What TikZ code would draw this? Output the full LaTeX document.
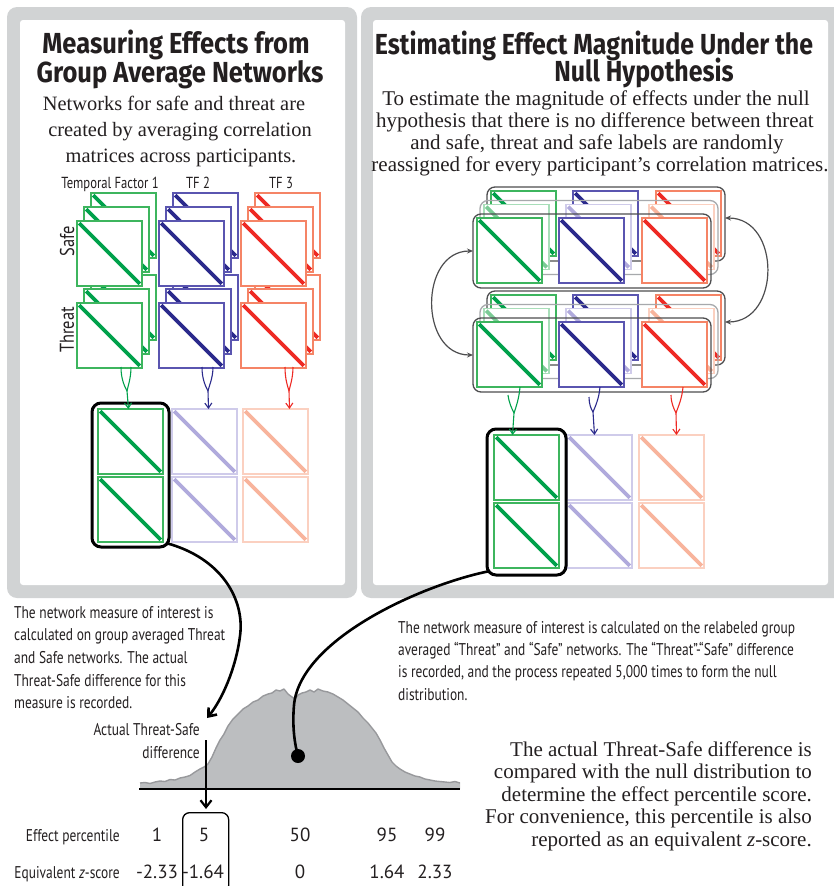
\documentclass[tikz,border=0pt]{standalone}
\usepackage{fontspec}
\setmainfont{Liberation Serif}
\newfontfamily\titlef[FakeStretch=0.88]{Fira Sans}
\newfontfamily\titleg[FakeStretch=0.86]{Fira Sans}
\newfontfamily\condf[FakeStretch=0.79]{PT Sans}
\newfontfamily\labf[FakeStretch=0.82]{PT Sans}
\newfontfamily\numf{PT Sans}
\usetikzlibrary{arrows.meta,calc}
\definecolor{panelgray}{HTML}{D1D3D4}
\definecolor{gB}{HTML}{3DB55E}
\definecolor{gD}{HTML}{00A14B}
\definecolor{bB}{HTML}{5A55B0}
\definecolor{bD}{HTML}{2B2A8C}
\definecolor{rB}{HTML}{F58466}
\definecolor{rD}{HTML}{EE2A24}
\definecolor{gF}{HTML}{A8DEB9}
\definecolor{gFD}{HTML}{7ACB95}
\definecolor{bF}{HTML}{CFCBEA}
\definecolor{bFD}{HTML}{B0AADC}
\definecolor{rF}{HTML}{FBD0C0}
\definecolor{rFD}{HTML}{F8B49C}
\definecolor{dkgray}{HTML}{4D4D4F}
\definecolor{ltgray}{HTML}{A7A9AC}
\definecolor{distfill}{HTML}{BCBEC0}
\definecolor{distline}{HTML}{98999C}
\definecolor{txt}{HTML}{231F20}
\newcommand{\mymat}[5]{%
  \node[matbox,draw=#4] (#1) at (#2,#3) {};
  \draw[diagline,draw=#5] ([shift={(2.2,2.2)}]#1.north west) -- ([shift={(-2.2,-2.2)}]#1.south east);}
\newcommand{\distpts}{(140,783) (145,782.5) (150,783.5) (155,782) (160,781) (165,781.5) (170,779.5) (175,780) (180,778) (185,777) (190,775.5) (195,772) (200,769) (204,767) (208,764) (212,757) (216,748) (220,740) (224,734) (228,726) (233,719) (238,714) (243,709) (248,706) (253,702) (258,700) (263,696) (268,694) (272,693) (276,690) (280,691) (284,689) (288,694) (292,697) (295,699) (298,695) (302,693) (306,692) (310,690) (314,692) (318,689) (323,691) (328,692) (333,694) (338,697) (343,700) (348,704) (353,708) (358,712) (363,718) (368,723) (372,728) (376,733) (380,740) (384,748) (388,755) (392,762) (396,766) (400,769) (405,772) (410,774) (415,776) (420,777) (425,779) (430,780) (435,781) (440,781.5) (445,782) (450,782.5) (455,781.5) (460,783)}
\tikzset{
  matbox/.style={rectangle, anchor=north west, minimum width=65pt, minimum height=65pt,
    inner sep=0pt, outer sep=0pt, fill=white, line width=1.1pt},
  diagline/.style={line width=3.6pt},
  rowbox/.style={rectangle, anchor=north west, minimum width=238pt, minimum height=74pt,
    inner sep=0pt, outer sep=0pt, rounded corners=8pt, line width=1.3pt},
  selbox/.style={rectangle, anchor=north west, draw=black, line width=3pt,
    rounded corners=9pt, inner sep=0pt, outer sep=0pt},
  fork/.style={line width=1.1pt},
  forkarrow/.style={line width=1.1pt, -{Straight Barb[length=5pt,width=7pt]}},
  swaparrow/.style={line width=1.2pt, draw=dkgray,
    {Stealth[length=6pt,width=5pt]}-{Stealth[length=6pt,width=5pt]}},
  bigcurve/.style={line width=2.6pt, draw=black},
  titlet/.style={font=\titlef\bfseries\fontsize{29}{31}\selectfont, text=txt, inner sep=0pt, anchor=base},
  titleu/.style={font=\titleg\bfseries\fontsize{29}{31}\selectfont, text=txt, inner sep=0pt, anchor=base},
  bodyt/.style={font=\fontsize{21}{23}\selectfont, text=txt, inner sep=0pt, anchor=base},
  lbodyt/.style={font=\fontsize{20.4}{23}\selectfont, text=txt, inner sep=0pt, anchor=base},
  condt/.style={font=\condf\fontsize{17}{20}\selectfont, text=txt, inner sep=0pt},
  tft/.style={font=\condf\fontsize{16}{20}\selectfont, text=txt, inner sep=0pt},
  labt/.style={font=\labf\fontsize{20}{22}\selectfont, text=txt, inner sep=0pt},
  numt/.style={font=\numf\fontsize{19}{22}\selectfont, text=txt, inner sep=0pt, anchor=base},
}
\begin{document}
\begin{tikzpicture}[x=1pt,y=-1pt]
\useasboundingbox (0,0) rectangle (833,886);
% panels
\fill[panelgray, rounded corners=10pt] (7,7) rectangle (357,598);
\fill[white, rounded corners=3pt] (20,20) rectangle (345,585);
\fill[panelgray, rounded corners=10pt] (361,7) rectangle (845,598);
\fill[white, rounded corners=3pt] (373,20) rectangle (828,585);
% left panel texts
\node[titlet] (lt1) at (176,53) {Measuring Effects from};
\node[titlet] (lt2) at (180,82) {Group Average Networks};
\node[lbodyt] (lb1) at (174,110) {Networks for safe and threat are};
\node[lbodyt] (lb2) at (180,136) {created by averaging correlation};
\node[lbodyt] (lb3) at (181,162) {matrices across participants.};
% right panel texts
\node[titleu] (rt1) at (594,54) {Estimating Effect Magnitude Under the};
\node[titleu] (rt2) at (644,81) {Null Hypothesis};
\node[bodyt] (rb1) at (596,105) {To estimate the magnitude of effects under the null};
\node[bodyt] (rb2) at (595,127) {hypothesis that there is no difference between threat};
\node[bodyt] (rb3) at (597,149) {and safe, threat and safe labels are randomly};
\node[bodyt] (rb4) at (600,171) {reassigned for every participant’s correlation matrices.};
% left stacks
\node[tft, anchor=base] (tf1) at (110,188) {Temporal Factor 1};
\node[tft, anchor=base] (tf2) at (198,188) {TF 2};
\node[tft, anchor=base] (tf3) at (281,188) {TF 3};
\node[labt, rotate=90] (safe) at (67,241) {Safe};
\node[labt, rotate=90] (threat) at (67,330) {Threat};
\foreach \Y/\r in {303/T, 221/S} {
  \foreach \c/\x/\bc/\dc in {1/77/gB/gD, 2/159/bB/bD, 3/241/rB/rD} {
    \mymat{l\r b\c}{\x+14}{\Y-28}{\bc}{\dc}
    \mymat{l\r m\c}{\x+7}{\Y-14}{\bc}{\dc}
    \mymat{l\r f\c}{\x}{\Y}{\bc}{\dc}
  }
}
% left lower matrices
\mymat{llg1}{98}{409}{gB}{gD}
\mymat{llg2}{98}{477}{gB}{gD}
\mymat{llb1}{172}{409}{bF}{bFD}
\mymat{llb2}{172}{477}{bF}{bFD}
\mymat{llr1}{243}{409}{rF}{rFD}
\mymat{llr2}{243}{477}{rF}{rFD}
\node[selbox, minimum width=77pt, minimum height=144pt] (lbox) at (92,403) {};
% left forks
\coordinate (lga) at (121,367); \coordinate (lgb) at (131,367); \coordinate (lgm) at (127,391);
\coordinate (lba) at (202,367); \coordinate (lbb) at (213,367); \coordinate (lbm) at (208,391);
\coordinate (lra) at (285,367); \coordinate (lrb) at (293,367); \coordinate (lrm) at (289,391);
\draw[fork, gD] (lga) .. controls (121,380) and (125,387) .. (lgm);
\draw[fork, gD] (lgb) .. controls (131,378) and (128,386) .. (lgm);
\draw[forkarrow, gD] (lgm) -- ([xshift=-2pt]llg1.north);
\draw[fork, bD] (lba) .. controls (202,380) and (206,387) .. (lbm);
\draw[fork, bD] (lbb) .. controls (213,378) and (209,386) .. (lbm);
\draw[forkarrow, bD] (lbm) -- ([xshift=4pt]llb1.north);
\draw[fork, rD] (lra) .. controls (285,380) and (288,387) .. (lrm);
\draw[fork, rD] (lrb) .. controls (293,378) and (290,386) .. (lrm);
\draw[forkarrow, rD] (lrm) -- ([xshift=14pt]llr1.north);
% right stacks
\foreach \r/\Y in {1/218, 2/322} {
  \node[rowbox, draw=dkgray] (rB\r) at (487,\Y-31) {};
  \foreach \c/\x/\bc/\dc in {1/477/gB/gD, 2/559/bB/bD, 3/642/rB/rD} {
    \mymat{rb\r\c}{\x+14}{\Y-27}{\bc}{\dc}
  }
  \node[rowbox, draw=ltgray] (rM\r) at (480,\Y-17.5) {};
  \foreach \c/\x/\bc/\dc in {1/477/gF/gFD, 2/559/bF/bFD, 3/642/rF/rFD} {
    \mymat{rm\r\c}{\x+7}{\Y-13.5}{\bc}{\dc}
  }
  \node[rowbox, draw=dkgray] (rF\r) at (473,\Y-4) {};
  \foreach \c/\x/\bc/\dc in {1/477/gB/gD, 2/559/bB/bD, 3/642/rB/rD} {
    \mymat{rf\r\c}{\x}{\Y}{\bc}{\dc}
  }
}
\draw[swaparrow] (rF1.west) .. controls (419,251) and (419,355) .. (rF2.west);
\draw[swaparrow] ([yshift=6pt]rB1.east) .. controls (781,218) and (781,322) .. ([yshift=6pt]rB2.east);
% right lower matrices
\mymat{rlg1}{494}{435}{gB}{gD}
\mymat{rlg2}{494}{503}{gB}{gD}
\mymat{rlb1}{567}{435}{bF}{bFD}
\mymat{rlb2}{567}{503}{bF}{bFD}
\mymat{rlr1}{639}{435}{rF}{rFD}
\mymat{rlr2}{639}{503}{rF}{rFD}
\node[selbox, minimum width=79pt, minimum height=146pt] (rbox) at (487,429) {};
% right forks
\coordinate (rga) at (508,395); \coordinate (rgb) at (520,387); \coordinate (rgm) at (514,413);
\coordinate (rba) at (589,397); \coordinate (rbb) at (600,387); \coordinate (rbm) at (593,412);
\coordinate (rra) at (671,395); \coordinate (rrb) at (683,387); \coordinate (rrm) at (676,413);
\draw[fork, gD] (rga) .. controls (509,403) and (512,409) .. (rgm);
\draw[fork, gD] (rgb) .. controls (519,399) and (516,407) .. (rgm);
\draw[forkarrow, gD] (rgm) -- ([xshift=-14pt]rlg1.north);
\draw[fork, bD] (rba) .. controls (589,404) and (591,409) .. (rbm);
\draw[fork, bD] (rbb) .. controls (599,399) and (595,407) .. (rbm);
\draw[forkarrow, bD] (rbm) -- ([xshift=-5pt]rlb1.north);
\draw[fork, rD] (rra) .. controls (671,403) and (674,409) .. (rrm);
\draw[fork, rD] (rrb) .. controls (682,399) and (678,407) .. (rrm);
\draw[forkarrow, rD] (rrm) -- ([xshift=5pt]rlr1.north);
% bottom explanatory texts
\node[condt, anchor=base west] (le1) at (14,618) {The network measure of interest is};
\node[condt, anchor=base west] (le2) at (14,640) {calculated on group averaged Threat};
\node[condt, anchor=base west] (le3) at (14,663) {and Safe networks. The actual};
\node[condt, anchor=base west] (le4) at (14,686) {Threat-Safe difference for this};
\node[condt, anchor=base west] (le5) at (14,708) {measure is recorded.};
\node[condt, anchor=base west] (re1) at (398,633) {The network measure of interest is calculated on the relabeled group};
\node[condt, anchor=base west] (re2) at (398,655) {averaged “Threat” and “Safe” networks. The “Threat”-“Safe” difference};
\node[condt, anchor=base west] (re3) at (398,677) {is recorded, and the process repeated 5,000 times to form the null};
\node[condt, anchor=base west] (re4) at (398,700) {distribution.};
\node[bodyt, anchor=base east] (ce1) at (812,756) {The actual Threat-Safe difference is};
\node[bodyt, anchor=base east] (ce2) at (812,778) {compared with the null distribution to};
\node[bodyt, anchor=base east] (ce3) at (812,801) {determine the effect percentile score.};
\node[bodyt, anchor=base east] (ce4) at (812,823) {For convenience, this percentile is also};
\node[bodyt, anchor=base east] (ce5) at (812,846) {reported as an equivalent \textit{z}-score.};
% distribution
\fill[distfill] (140,789) -- plot coordinates {\distpts} -- (460,789) -- cycle;
\draw[distline, line width=1.4pt, line join=round] plot coordinates {\distpts};
\coordinate (bl) at (139,789); \coordinate (br) at (460,789);
\draw[line width=2.5pt] (bl) -- (br);
% selection box and labels
\node[rectangle, anchor=north west, draw=black, line width=1.3pt, rounded corners=7pt,
  minimum width=46pt, minimum height=80pt, inner sep=0pt] (sel) at (182,812) {};
\node[condt, anchor=base east] (act1) at (200,735) {Actual Threat-Safe};
\node[condt, anchor=base east] (act2) at (200,758) {difference};
\coordinate (actTip) at (207,718);
\coordinate (diffTop) at (206,740);
\draw[line width=2.2pt, shorten >=3pt, -{Straight Barb[length=7pt,width=11pt]}] (diffTop) -- (diffTop |- sel.north);
% big curves
\draw[bigcurve, -{Straight Barb[length=7pt,width=11pt]}] ([shift={(-3,-4)}]lbox.south east) .. controls (222,558) and (245,600) .. (240,636) .. controls (236,668) and (222,700) .. (actTip);
\node[circle, fill=black, minimum size=14pt, inner sep=0pt] (dot) at (298,756) {};
\draw[bigcurve] ([shift={(3,-4)}]rbox.south west) .. controls (420,585) and (300,640) .. (294,705) .. controls (292,728) and (295,745) .. (dot.center);
% table
\node[condt, anchor=base east] (ep) at (120,841) {Effect percentile};
\node[condt, anchor=base east] (ez) at (120,878) {Equivalent \textit{z}-score};
\node[numt] (p1) at (157,841) {1};
\node[numt] (p5) at (204,841) {5};
\node[numt] (p50) at (300,841) {50};
\node[numt] (p95) at (387,841) {95};
\node[numt] (p99) at (435,841) {99};
\node[numt] (z1) at (157,878) {-2.33};
\node[numt] (z5) at (203,878) {-1.64};
\node[numt] (z50) at (300,878) {0};
\node[numt] (z95) at (387,878) {1.64};
\node[numt] (z99) at (435,878) {2.33};
\end{tikzpicture}
\end{document}
